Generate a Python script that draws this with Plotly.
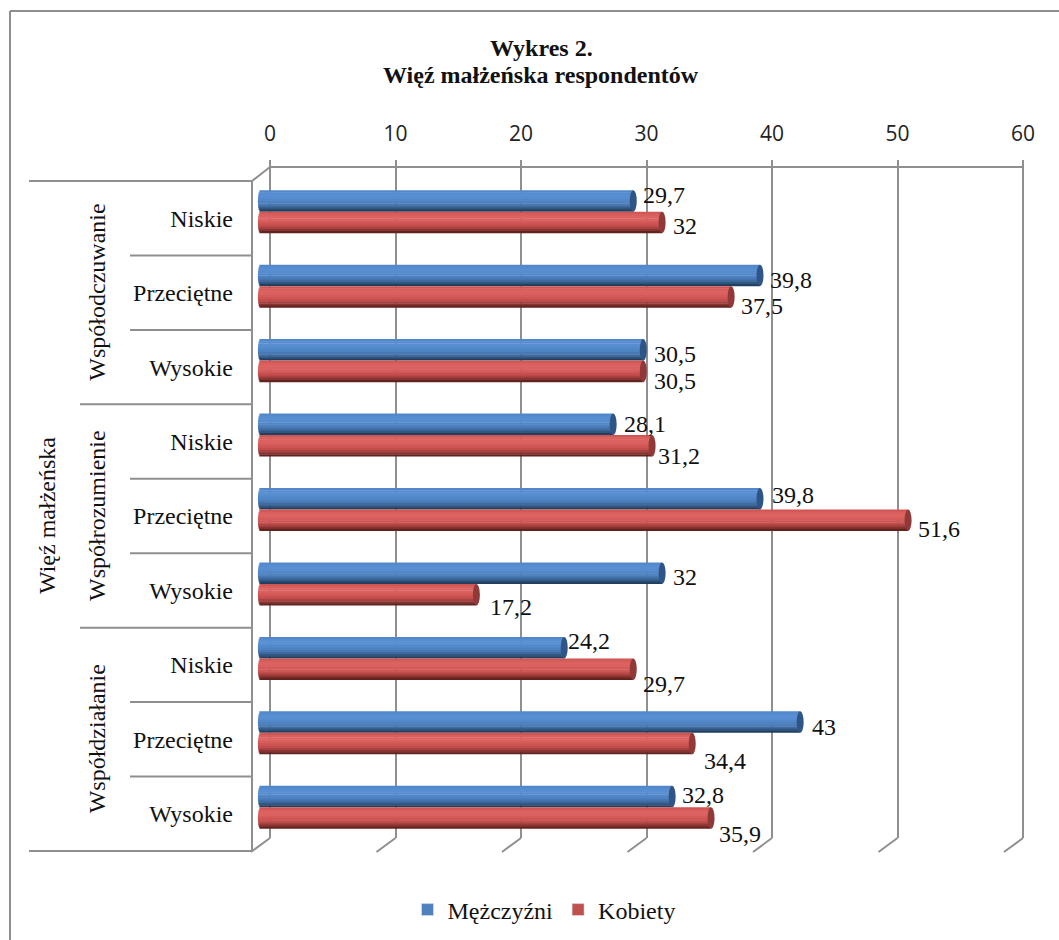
import math
import plotly.graph_objects as go

# --- data ---
outer_label = "Więź małżeńska"
groups = ["Współodczuwanie", "Współrozumienie", "Współdziałanie"]
levels = ["Niskie", "Przeciętne", "Wysokie"]
men = [29.7, 39.8, 30.5, 28.1, 39.8, 32, 24.2, 43, 32.8]
women = [32, 37.5, 30.5, 31.2, 51.6, 17.2, 29.7, 34.4, 35.9]
x_ticks = [0, 10, 20, 30, 40, 50, 60]
series_names = ["Mężczyźni", "Kobiety"]
title_lines = ["Wykres 2.", "Więź małżeńska respondentów"]

# --- layout helpers (pixels on the 1059x940 page) ---
W, H = 1059, 940
PX = 12.55
def fx(p): return p / W
def fy(p): return (H - p) / H

GRID = "#8f8f8f"
SERIF = "Liberation Serif"
TXT = "#111111"

men_shift = [(31, -23), (31, -13), (32, -13), (32, -18), (33, -21), (23, -13), (25, -24), (24, -12), (31, -19)]
women_shift = [(23, 8), (31, 13), (32, 14), (27, 14), (31, 13), (35, 17), (31, 19), (33, 22), (29, 20)]

blue_ramp = ["#5288c9", "#568dd0", "#588fd2", "#568dce", "#5288c9", "#4e83c2", "#4879b5", "#3e6a9f", "#315781", "#223f62"]
red_ramp = ["#d05654", "#d95f5d", "#dc6361", "#da615f", "#d55b59", "#ce5553", "#c24d4b", "#a84240", "#873331", "#62231f"]
cap_cols = ["#2f5586", "#8f3a38"]

rows = list(range(len(men)))
STRIP = 0.0289
TOPS = [-28 / 74.44, -6.5 / 74.44]   # top edge of each series' bar relative to row centre
R = 2.6 / PX

fig = go.Figure()

# axis that carries the gridlines and the top tick labels
fig.add_trace(go.Scatter(x=[0, 60], y=[0, 1], xaxis="x", yaxis="y", mode="markers",
                         marker=dict(opacity=0), hoverinfo="skip", showlegend=False))

shapes = []
for s, (vals, ramp) in enumerate(zip((men, women), (blue_ramp, red_ramp))):
    n = len(ramp)
    for k, col in enumerate(ramp):
        t = (k + 0.5) / n * 2 - 1
        inset = R * math.sqrt(max(0, 1 - t * t))
        fig.add_trace(go.Bar(
            x=[v + inset for v in vals], y=rows, base=-inset, orientation="h",
            offset=TOPS[s] + k * STRIP, width=STRIP + (0.006 if k < n - 1 else 0),
            marker=dict(color=col, line=dict(width=0)),
            xaxis="x2", yaxis="y2", showlegend=False, hoverinfo="skip"))
    for i, v in zip(rows, vals):
        shapes.append(dict(type="circle", xref="x2", yref="y2", layer="above",
                           x0=v - 0.28, x1=v + 0.28,
                           y0=i + TOPS[s], y1=i + TOPS[s] + STRIP * n,
                           fillcolor=cap_cols[s], line=dict(width=0)))

# legend proxies
for name, col in zip(series_names, ["#4f81bd", "#c0504d"]):
    fig.add_trace(go.Bar(x=[None], y=[None], name=name, marker=dict(color=col),
                         xaxis="x2", yaxis="y2", orientation="h"))

def line(x0, y0, x1, y1, width=2, color=GRID):
    return dict(type="line", xref="paper", yref="paper", x0=fx(x0), y0=fy(y0), x1=fx(x1), y1=fy(y1),
                line=dict(color=color, width=width), layer="below")

# outer frame
shapes += [line(10, 11, 10, 940, 2), line(10, 11, 1059, 11, 2)]
# back wall top edge, corner links, floor feet
shapes += [line(270, 167, 1023, 167), line(252, 181, 270, 167), line(252, 181, 252, 851)]
for t in x_ticks:
    xb = 270 + t * PX
    shapes.append(line(xb, 838, xb - 19, 852))
# category bracket lines
band = 670 / 9
for i in range(10):
    left = 29 if i in (0, 9) else (80 if i % 3 == 0 else 130)
    y = 181 + i * band
    shapes.append(line(left, y, 252, y))

ann = []
for vals, shifts in ((men, men_shift), (women, women_shift)):
    for i, v, (dx, dy) in zip(rows, vals, shifts):
        ann.append(dict(x=v, y=i, xref="x2", yref="y2", text=f"{v:g}".replace(".", ","),
                        showarrow=False, xshift=dx, yshift=-dy, xanchor="center", yanchor="middle",
                        font=dict(family=SERIF, size=24, color=TXT)))
for g, name in enumerate(groups):
    ann.append(dict(x=fx(97), xref="paper", y=3 * g + 1, yref="y2", text=name, textangle=-90,
                    showarrow=False, xanchor="center", yanchor="middle",
                    font=dict(family=SERIF, size=24, color=TXT)))
ann.append(dict(x=fx(47), xref="paper", y=4, yref="y2", text=outer_label, textangle=-90,
                showarrow=False, xanchor="center", yanchor="middle",
                font=dict(family=SERIF, size=24, color=TXT)))
for text, py in zip(title_lines, (48, 75)):
    ann.append(dict(x=fx(541), xref="paper", y=fy(py), yref="paper", text=f"<b>{text}</b>",
                    showarrow=False, xanchor="center", yanchor="middle",
                    font=dict(family=SERIF, size=24, color=TXT)))

fig.update_layout(
    width=W, height=H, autosize=False, margin=dict(l=0, r=0, t=0, b=0, autoexpand=False),
    paper_bgcolor="white", plot_bgcolor="rgba(0,0,0,0)",
    barmode="overlay", shapes=shapes, annotations=ann,
    showlegend=True,
    legend=dict(orientation="h", x=fx(544), xanchor="center", y=fy(910), yanchor="middle",
                font=dict(family=SERIF, size=24, color=TXT), bgcolor="rgba(0,0,0,0)"),
    xaxis=dict(domain=[fx(260), fx(1033)], range=[-10 / PX, 60 + 10 / PX], side="top", anchor="y",
               tickvals=x_ticks, showgrid=True, gridcolor=GRID, gridwidth=2, zeroline=False,
               showline=False, ticks="outside", ticklen=10, tickcolor="rgba(0,0,0,0)",
               tickfont=dict(family="Open Sans", size=21, color="#222222")),
    yaxis=dict(domain=[fy(838), fy(160)], range=[0, 1], visible=False, anchor="x"),
    xaxis2=dict(domain=[fx(234), fx(1050)], range=[(234 - 260.5) / PX, (1050 - 260.5) / PX],
                visible=False, anchor="y2"),
    yaxis2=dict(domain=[fy(851), fy(181)], range=[8.5, -0.5], anchor="x2", showgrid=False,
                zeroline=False, showline=False, tickmode="array", tickvals=rows,
                ticktext=[levels[i % 3] for i in rows], ticks="",
                tickfont=dict(family=SERIF, size=24, color=TXT)),
)

fig.write_html("out.html", config=dict(displayModeBar=False),
               post_script="document.body.style.margin='0';document.body.style.overflow='hidden';")
